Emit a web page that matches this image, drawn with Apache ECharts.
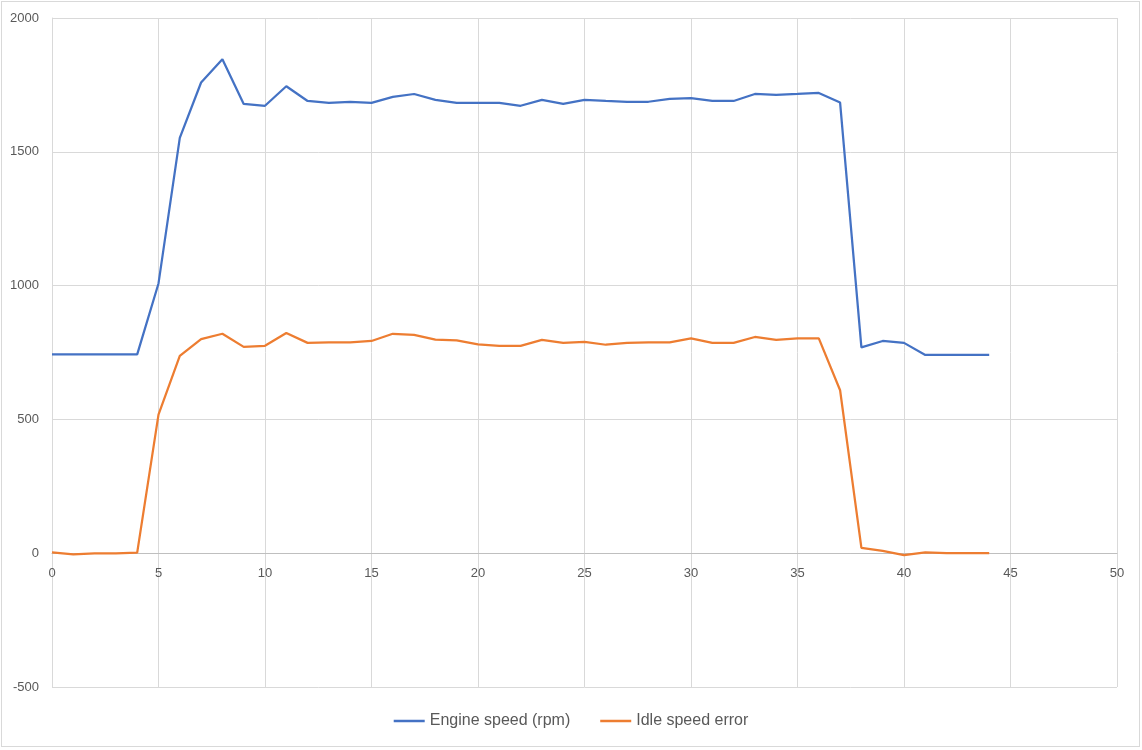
<!DOCTYPE html>
<html>
<head>
<meta charset="utf-8">
<script src="https://cdn.jsdelivr.net/npm/echarts@6/dist/echarts.min.js"></script>
<style>
html,body{margin:0;padding:0;background:#fff;}
#wrap{position:absolute;left:1px;top:1px;width:1139px;height:746px;border:1px solid #d9d9d9;box-sizing:border-box;}
#chart{width:1142px;height:750px;position:absolute;left:-2px;top:-2px;}
</style>
</head>
<body>
<div id="wrap"><div id="chart"></div></div>
<script>
const seriesNames = ['Engine speed (rpm)', 'Idle speed error'];
const xValues = [0,1,2,3,4,5,6,7,8,9,10,11,12,13,14,15,16,17,18,19,20,21,22,23,24,25,26,27,28,29,30,31,32,33,34,35,36,37,38,39,40,41,42,43,44];
const engineSpeed = [743,743,743,743,743,1008,1552,1759,1846,1679,1672,1745,1690,1683,1687,1683,1705,1716,1694,1683,1683,1683,1672,1694,1679,1694,1690,1687,1687,1698,1701,1690,1690,1716,1713,1716,1720,1684,769,793,786,741,741,741,741];
const idleError = [3,-4,-1,-1,2,518,737,800,820,771,775,823,786,788,788,793,820,816,798,795,780,775,775,797,786,790,779,786,788,788,803,786,786,808,797,803,803,609,20,9,-7,3,0,0,0];
const yTicks = {min:-500, max:2000, interval:500};
const xTicks = {min:0, max:50, interval:5};

const W = 1142, H = 750;
const grid = {left:52, right:25, top:18, bottom:63};
const gridH = H - grid.top - grid.bottom;
// move the x axis up to the y = 0 position
const zeroOffset = -gridH * (0 - yTicks.min) / (yTicks.max - yTicks.min);

const chart = echarts.init(document.getElementById('chart'), null, {renderer:'canvas', width:W, height:H});
const font = 'Liberation Sans, Arial, sans-serif';
chart.setOption({
  animation:false,
  grid:Object.assign({containLabel:false}, grid),
  legend:{
    bottom:16, left:'center',
    icon:'rect', itemWidth:31, itemHeight:2.5, itemGap:30,
    textStyle:{fontFamily:font, fontSize:16, color:'#595959'},
    data:seriesNames
  },
  xAxis:{
    type:'value', min:xTicks.min, max:xTicks.max, interval:xTicks.interval,
    position:'bottom', offset:zeroOffset,
    axisLine:{onZero:false, lineStyle:{color:'#bfbfbf', width:1}},
    axisTick:{show:false},
    axisLabel:{fontFamily:font, fontSize:13, color:'#595959', margin:14},
    splitLine:{show:true, lineStyle:{color:'#d9d9d9', width:1}}
  },
  yAxis:{
    type:'value', min:yTicks.min, max:yTicks.max, interval:yTicks.interval,
    axisLine:{show:true, lineStyle:{color:'#d9d9d9'}},
    axisTick:{show:false},
    axisLabel:{fontFamily:font, fontSize:13, color:'#595959', margin:13,
      formatter:function(v){return String(v);}},
    splitLine:{show:true, lineStyle:{color:'#d9d9d9', width:1}}
  },
  series:[
    {name:seriesNames[0], type:'line', symbol:'none', showSymbol:false,
     data:xValues.map((x,i)=>[x, engineSpeed[i]]),
     lineStyle:{color:'#4472C4', width:2.25}, itemStyle:{color:'#4472C4'}},
    {name:seriesNames[1], type:'line', symbol:'none', showSymbol:false,
     data:xValues.map((x,i)=>[x, idleError[i]]),
     lineStyle:{color:'#ED7D31', width:2.25}, itemStyle:{color:'#ED7D31'}}
  ]
});
</script>
</body>
</html>
